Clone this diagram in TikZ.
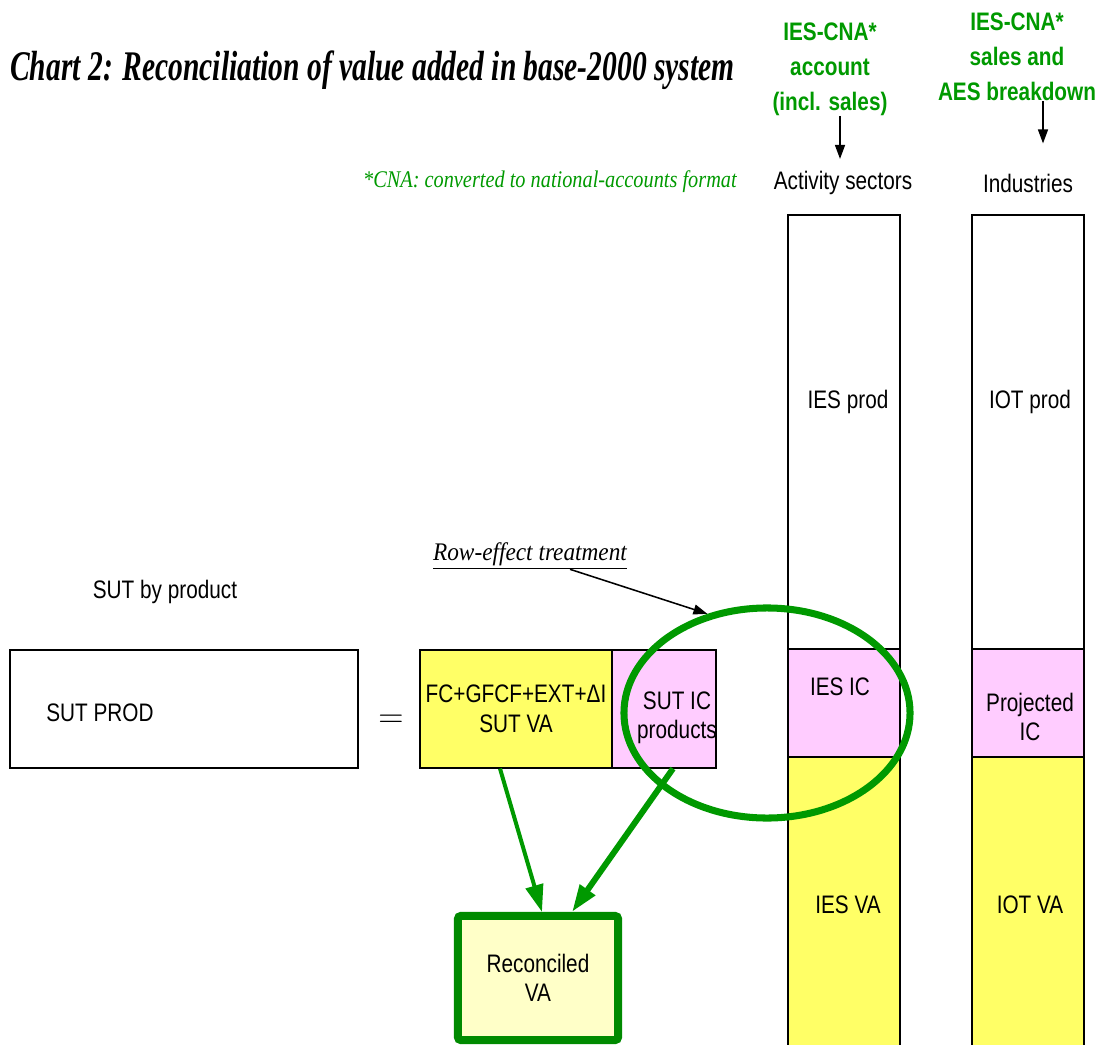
\documentclass[tikz,border=0pt]{standalone}
\usepackage{fontspec}
\usetikzlibrary{arrows.meta,shapes.geometric}
\setmainfont{Liberation Sans}[FakeStretch=0.82]
\newfontfamily\titlefont{Liberation Serif}[FakeStretch=0.7]
\newfontfamily\notefont{Liberation Serif}[FakeStretch=0.85]
\newfontfamily\rowfont{Liberation Serif}[FakeStretch=0.92]
\definecolor{icpink}{HTML}{FFCCFF}
\definecolor{vayellow}{HTML}{FFFF66}
\definecolor{recyellow}{HTML}{FFFFC8}
\definecolor{okgreen}{HTML}{009900}

\begin{document}
\begin{tikzpicture}[x=0.025cm, y=-0.025cm,
			every node/.style={font=\fontsize{18}{21}\selectfont, inner sep=0pt},
			cell/.style={draw, line width=0.8pt},
			col/.style={cell, minimum width=2.8cm},
			src/.style={align=center, text=okgreen, font=\fontsize{18}{25}\selectfont\bfseries},
			blk/.style={-{Triangle[length=0.35cm, width=0.25cm]}, line width=1.1pt},
			garrow/.style={-{Triangle[length=0.68cm, width=0.44cm]}, draw=okgreen}]
			\useasboundingbox (0,0) rectangle (1100,1045);
			
			% Title and note
			\node[anchor=west, font=\fontsize{30}{34}\titlefont\bfseries\itshape] (title) at (10,70) {Chart 2: Reconciliation of value added in base-2000 system};
			\node[anchor=east, text=okgreen, font=\fontsize{17}{20}\notefont\itshape] (cnanote) at (737,182) {*CNA: converted to national-accounts format};
			
			% Define the nodes for the activity sectors column
			\node[src] (Asrc) at (830,69) {IES-CNA*\\account\\(incl. sales)};
			\node (Ahead) at (843,183) {Activity sectors};
			\node[col, fill=white, minimum height=10.85cm] (Aprod) at (844,432) {};
			\node[col, fill=icpink, minimum height=2.7cm] (Aic) at (844,703) {};
			\node[col, fill=vayellow, minimum height=7.25cm] (Ava) at (844,902) {};
			
			% Define the nodes for the industries column
			\node[src] (Bsrc) at (1017,57) {IES-CNA*\\sales and\\AES breakdown};
			\node (Bhead) at (1028,183) {Industries};
			\node[col, fill=white, minimum height=10.85cm] (Bprod) at (1028,432) {};
			\node[col, fill=icpink, minimum height=2.7cm] (Bic) at (1028,703) {};
			\node[col, fill=vayellow, minimum height=7.25cm] (Bva) at (1028,902) {};
			
			% Define the nodes for the SUT line
			\node (sutlbl) at (165,592) {SUT by product};
			\node[cell, fill=white, minimum width=8.7cm, minimum height=2.95cm] (sutprod) at (184,709) {};
			\node[font=\fontsize{24}{28}\selectfont] (eqsign) at (391,721) {$=$};
			\node[cell, fill=vayellow, minimum width=4.8cm, minimum height=2.95cm, align=center] (sutva) at (516,709) {FC+GFCF+EXT+ΔI\\SUT VA};
			\node[cell, fill=icpink, minimum width=2.6cm, minimum height=2.95cm] (sutic) at (664,709) {};
			
			% Row effect
			\node[draw=okgreen, ellipse, line width=5pt, minimum width=7.15cm, minimum height=5.25cm] (rowfx) at (767,713) {};
			\node[font=\fontsize{18}{21}\rowfont\itshape] (rowlbl) at (530,556) {\underline{Row-effect treatment}};
			
			% Labels in the boxes
			\node (sutprodlbl) at (100,713) {SUT PROD};
			\node[align=center] (suticlbl) at (677,718) {SUT IC\\products};
			\node (Aprodlbl) at (848,402) {IES prod};
			\node (Aiclbl) at (840,687) {IES IC};
			\node (Avalbl) at (848,905) {IES VA};
			\node (Bprodlbl) at (1030,402) {IOT prod};
			\node[align=center] (Biclbl) at (1030,717) {Projected\\IC};
			\node (Bvalbl) at (1030,905) {IOT VA};
			
			% Reconciled value added
			\node[draw=okgreen!90!black, fill=recyellow, line width=0.2cm, rounded corners=2pt, minimum width=4cm, minimum height=3.1cm, align=center] (recon) at (538,978) {Reconciled\\VA};
			
			% Draw the arrows
			\draw[blk] ([xshift=0.25cm]Asrc.south) -- ([xshift=0.25cm, yshift=0.3cm]Asrc.south |- Ahead.north);
			\draw[blk] ([xshift=0.65cm]Bsrc.south) -- ([xshift=0.65cm, yshift=0.75cm]Bsrc.south |- Bhead.north);
			\draw[blk] ([xshift=1cm]rowlbl.south) -- (rowfx.121);
			\draw[garrow, line width=0.1cm] ([xshift=-0.4cm]sutva.south) -- ([xshift=0.1cm]recon.north);
			\draw[garrow, line width=0.15cm] ([xshift=0.225cm]sutic.south) -- ([xshift=0.85cm]recon.north);
		\end{tikzpicture}
\end{document}
